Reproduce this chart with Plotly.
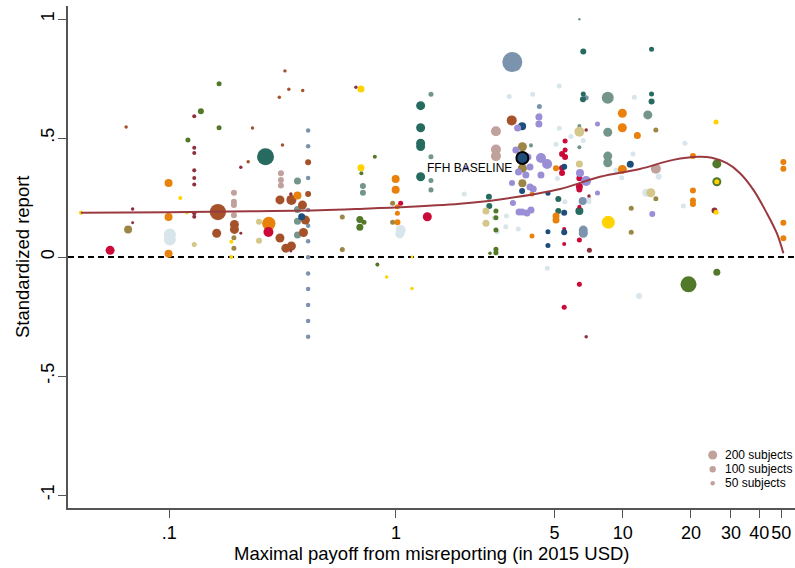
import numpy as np
import plotly.graph_objects as go

# ---- data: (max payoff in 2015 USD, standardized report, number of subjects) ----
brown = [(0.0646, 0.546, 30), (0.164, 0.189, 650), (0.162, 0.10, 200), (0.194, 0.137, 200),
         (0.194, 0.116, 200), (0.223, 0.40, 30), (0.233, 0.542, 30), (0.308, 0.24, 200),
         (0.308, 0.08, 200), (0.306, 0.671, 30), (0.324, 0.782, 30), (0.337, 0.705, 30),
         (0.388, 0.70, 30), (0.327, 0.037, 200), (0.346, 0.046, 200), (0.346, 0.24, 247),
         (0.387, 0.218, 200), (0.399, 0.155, 200), (0.391, 0.103, 200), (0.41, 0.398, 89),
         (0.41, 0.265, 89), (0.316, 0.471, 30), (3.24, 0.574, 247)]
maroon = [(0.069, 0.202, 30), (0.069, 0.144, 22), (0.129, 0.591, 40), (0.129, 0.459, 40),
          (0.129, 0.437, 40), (0.129, 0.364, 40), (0.129, 0.332, 40), (0.129, 0.305, 40),
          (0.129, 0.184, 40), (0.129, 0.169, 40), (0.207, 0.10, 22), (0.207, 0.377, 30),
          (0.344, 0.265, 30), (0.344, 0.025, 22), (0.666, 0.713, 30), (6.90, 0.534, 30),
          (7.1, 0.256, 30), (7.13, 0.028, 62), (6.90, -0.335, 30), (25.4, 0.195, 89)]
orange = [(0.0994, 0.311, 158), (0.0994, 0.168, 158), (0.0994, 0.014, 158), (0.275, 0.141, 440),
          (0.368, 0.258, 158), (0.997, 0.328, 158), (0.997, 0.283, 158), (1.015, 0.211, 62),
          (1.015, 0.184, 62), (1.015, 0.146, 89), (5.08, 0.373, 89), (3.98, 0.265, 62),
          (3.98, 0.088, 62), (5.08, 0.172, 121), (5.08, 0.155, 121), (9.96, 0.604, 200),
          (9.96, 0.543, 200), (11.6, 0.51, 121), (9.96, 0.368, 200), (20.4, 0.424, 89),
          (20.4, 0.279, 89), (20.4, 0.237, 89), (20.4, 0.223, 89), (51.1, 0.399, 89),
          (51.1, 0.371, 89), (51.1, 0.144, 89), (51.1, 0.079, 89)]
crimson = [(0.0549, 0.028, 200), (0.274, 0.105, 247), (1.049, 0.226, 62), (1.375, 0.169, 200),
           (5.57, 0.487, 62), (5.57, 0.45, 62), (5.40, 0.433, 89), (5.57, 0.420, 89),
           (5.40, 0.374, 89), (5.40, 0.353, 89), (6.44, 0.331, 89), (6.44, 0.296, 121),
           (6.44, 0.284, 89), (6.44, 0.211, 40), (5.52, 0.118, 40), (5.52, 0.055, 40),
           (6.44, 0.071, 62), (6.44, -0.115, 62), (5.52, -0.211, 62)]
yellow = [(0.0408, 0.186, 40), (0.112, 0.248, 40), (0.1197, 0.186, 30), (0.188, 0.064, 40),
          (0.188, 0.0, 40), (0.701, 0.706, 121), (0.701, 0.375, 121), (0.91, -0.084, 30),
          (1.177, -0.132, 30), (1.177, 0.0, 22), (8.64, 0.146, 417), (25.8, 0.567, 62),
          (25.8, 0.188, 62)]
olive = [(0.0659, 0.116, 158), (0.193, 0.081, 62), (0.193, 0.037, 62), (0.580, 0.168, 62),
         (0.580, 0.031, 62), (0.967, 0.226, 62), (0.967, 0.146, 62), (3.61, 0.463, 200),
         (3.61, 0.373, 200), (3.61, 0.31, 158), (14.0, 0.534, 62), (14.0, 0.245, 62),
         (10.9, 0.205, 62), (10.9, 0.104, 62)]
khaki = [(0.129, 0.052, 62), (0.249, 0.148, 89), (0.249, 0.068, 89), (2.495, 0.193, 121),
         (2.495, 0.142, 121), (6.44, 0.526, 247), (6.44, 0.391, 121), (13.3, 0.27, 200)]
green = [(0.121, 0.492, 62), (0.138, 0.612, 89), (0.166, 0.728, 62), (0.166, 0.543, 62),
         (0.704, 0.352, 40), (0.693, 0.158, 121), (0.693, 0.125, 121), (0.723, 0.146, 62),
         (0.807, 0.421, 40), (0.828, -0.032, 40), (2.76, 0.193, 62), (2.76, 0.165, 62),
         (2.76, 0.113, 62), (2.76, 0.032, 62), (2.76, 0.018, 62), (2.598, 0.016, 30),
         (19.5, -0.115, 632), (26.0, -0.064, 121), (26.0, 0.391, 200), (26.0, 0.316, 200)]
yellow_top = [(26.0, 0.316, 62)]
teal = [(0.266, 0.421, 714), (1.285, 0.636, 200), (1.285, 0.543, 200), (1.285, 0.478, 200),
        (1.285, 0.464, 200), (1.285, 0.337, 200), (2.57, 0.253, 89), (2.58, 0.214, 89),
        (6.70, 0.863, 89), (13.4, 0.873, 62), (6.70, 0.685, 62), (6.68, 0.663, 89),
        (13.4, 0.685, 62), (13.4, 0.653, 89), (5.20, 0.244, 89), (5.20, 0.193, 89),
        (6.44, 0.193, 158)]
greyteal = [(0.368, 0.319, 121), (0.368, 0.20, 121), (0.368, 0.15, 121), (0.368, 0.092, 121),
            (0.715, 0.298, 89), (0.715, 0.27, 89), (1.427, 0.684, 62), (1.427, 0.421, 62),
            (1.427, 0.321, 62), (1.427, 0.282, 62), (6.44, 0.999, 15), (8.59, 0.669, 356),
            (12.9, 0.597, 200), (8.59, 0.524, 200), (8.59, 0.424, 200), (8.59, 0.396, 200),
            (3.94, 0.469, 40), (6.44, 0.526, 40), (6.44, 0.55, 40), (6.44, 0.461, 40)]
lightblue = [(0.1007, 0.095, 356), (0.1007, 0.074, 356), (1.049, 0.113, 247), (1.04, 0.097, 200),
             (2.0, 0.265, 62), (2.714, 0.165, 62), (2.80, 0.105, 62), (3.16, 0.674, 62),
             (4.01, 0.684, 62), (4.31, 0.597, 62), (5.25, 0.718, 62), (5.25, 0.541, 62),
             (5.91, 0.506, 62), (6.70, 0.489, 62), (5.08, 0.474, 62), (8.79, 0.68, 62),
             (11.25, 0.671, 62), (5.15, 0.33, 62), (5.56, 0.232, 62), (7.1, 0.247, 62),
             (7.1, 0.232, 62), (3.46, 0.118, 62), (3.05, 0.127, 62), (3.07, 0.172, 62),
             (4.65, -0.047, 62), (11.8, -0.164, 89), (11.1, 0.433, 62), (9.9, 0.333, 62),
             (9.34, 0.365, 62), (14.4, 0.337, 89), (12.7, 0.27, 158), (18.8, 0.478, 62),
             (18.5, 0.214, 62)]
steel = [(0.41, 0.532, 50), (0.41, 0.465, 50), (0.41, 0.398, 50), (0.41, 0.332, 50),
         (0.41, 0.265, 50), (0.41, 0.198, 50), (0.41, 0.131, 50), (0.41, 0.066, 50),
         (0.41, -0.001, 50), (0.41, -0.069, 50), (0.41, -0.134, 50), (0.41, -0.202, 50),
         (0.41, -0.269, 50), (0.41, -0.335, 50), (3.26, 0.819, 988), (4.29, 0.632, 62),
         (6.90, 0.669, 62), (6.66, 0.235, 158), (6.70, 0.113, 200), (6.70, 0.10, 200)]
navy = [(0.384, 0.169, 121), (3.60, 0.549, 158), (3.60, 0.277, 89), (5.52, 0.379, 89),
        (5.52, 0.186, 89), (5.52, 0.104, 89), (4.68, 0.268, 62), (4.68, 0.106, 62),
        (4.68, 0.048, 62), (10.8, 0.39, 121)]
lavender = [(3.44, 0.542, 121), (4.27, 0.588, 121), (4.27, 0.559, 121), (3.38, 0.450, 121),
            (4.36, 0.416, 247), (4.64, 0.391, 247), (3.82, 0.42, 121), (3.90, 0.378, 121),
            (3.74, 0.345, 121), (4.36, 0.345, 121), (3.25, 0.311, 89), (3.47, 0.357, 121),
            (3.90, 0.294, 121), (4.03, 0.286, 121), (3.28, 0.227, 89), (3.60, 0.189, 121),
            (3.78, 0.185, 121), (3.94, 0.197, 121), (3.49, 0.189, 121), (7.74, 0.559, 62),
            (6.48, 0.353, 158), (6.89, 0.319, 247), (7.74, 0.269, 62), (13.5, 0.181, 89),
            (2.04, 0.374, 62)]
rosy = [(0.193, 0.27, 89), (0.193, 0.232, 89), (0.193, 0.218, 89), (0.193, 0.175, 89),
        (0.311, 0.352, 89), (0.311, 0.324, 89), (0.311, 0.30, 89), (2.76, 0.528, 247),
        (2.76, 0.452, 247), (2.76, 0.424, 247), (14.0, 0.371, 247)]
baseline = [(3.61, 0.416, 247)]

# fitted curve
fit_x = [0.0408, 0.1, 0.227, 0.462, 0.767, 1.041, 1.915, 2.87, 5.30, 7.94, 11.9, 16.7,
         21.6, 24.7, 28.8, 32.9, 37.7, 43.2, 47.8, 51.1]
fit_y = [0.186, 0.188, 0.192, 0.196, 0.204, 0.209, 0.224, 0.242, 0.286, 0.337, 0.37, 0.408,
         0.421, 0.417, 0.394, 0.352, 0.282, 0.184, 0.10, 0.016]

legend_n = [200, 100, 50]
legend_labels = ["200 subjects", "100 subjects", "50 subjects"]

x_ticks = [0.1, 1, 5, 10, 20, 30, 40, 50]
x_ticktext = [".1", "1", "5", "10", "20", "30", "40", "50"]
y_ticks = [-1, -0.5, 0, 0.5, 1]
y_ticktext = ["-1", "-.5", "0", ".5", "1"]

# ---- styling ----
groups = [
    (lightblue, "#D8E5EB"), (steel, "#7B93AD"), (rosy, "#C0A19B"), (greyteal, "#73958A"),
    (teal, "#276B60"), (brown, "#A5522A"), (maroon, "#8E2F3C"), (khaki, "#D3C789"),
    (olive, "#9B8646"), (green, "#52782A"), (orange, "#E8820C"), (crimson, "#CC0A38"),
    (yellow, "#FFD200"), (navy, "#1D4D7A"), (lavender, "#9A8ED6"), (yellow_top, "#FFD200"),
]
FONT = "Liberation Sans, Arial, sans-serif"


def msize(n):
    return 9.0 * np.sqrt(np.asarray(n, dtype=float) / 200.0)


fig = go.Figure()

for data, color in groups:
    xs, ys, ns = zip(*data)
    fig.add_trace(go.Scatter(x=xs, y=ys, mode="markers", showlegend=False, hoverinfo="skip",
                             marker=dict(color=color, size=msize(ns), opacity=1, line=dict(width=0))))

fig.add_trace(go.Scatter(x=fit_x, y=fit_y, mode="lines", line=dict(color="#9A3A40", width=2, shape="spline"),
                         showlegend=False, hoverinfo="skip"))

bx, by, bn = zip(*baseline)
fig.add_trace(go.Scatter(x=bx, y=by, mode="markers", showlegend=False, hoverinfo="skip",
                         marker=dict(color="#1D4D7A", size=msize(bn) + 2, opacity=1,
                                     line=dict(color="black", width=2))))

# size legend on an invisible overlay axis
leg_y = [0.1056, 0.0771, 0.0492]
fig.add_trace(go.Scatter(x=[0.8868] * 3, y=leg_y, xaxis="x2", yaxis="y2", mode="markers",
                         showlegend=False, hoverinfo="skip",
                         marker=dict(color="#C0A19B", size=msize(legend_n), opacity=1, line=dict(width=0))))
for lab, yy in zip(legend_labels, leg_y):
    fig.add_annotation(x=0.9006, y=yy, xref="x2", yref="y2", text=lab, showarrow=False,
                       xanchor="left", yanchor="middle", font=dict(family=FONT, size=12, color="black"))

fig.add_annotation(x=np.log10(bx[0]), y=0.373, text="FFH BASELINE", showarrow=False,
                   xanchor="right", yanchor="middle", xshift=-8,
                   font=dict(family=FONT, size=12, color="black"))

# axis titles
fig.add_annotation(x=0.5, y=0, xref="paper", yref="paper", text="Maximal payoff from misreporting (in 2015 USD)",
                   showarrow=False, xanchor="center", yanchor="middle", yshift=-45,
                   font=dict(family=FONT, size=18.5, color="black"))
fig.add_annotation(x=0, y=0.5, xref="paper", yref="paper", text="Standardized report", textangle=-90,
                   showarrow=False, xanchor="center", yanchor="middle", xshift=-46,
                   font=dict(family=FONT, size=18.5, color="black"))

fig.add_shape(type="line", xref="paper", yref="y", x0=0, x1=1, y0=0, y1=0,
              line=dict(color="black", width=2, dash="6px,4px"), layer="below")

axis_col = "#555555"
fig.update_layout(
    width=795, height=568,
    margin=dict(l=68, r=0, t=6, b=60, autoexpand=False),
    paper_bgcolor="white", plot_bgcolor="white",
    font=dict(family=FONT, color="black"),
    xaxis=dict(type="log", range=[np.log10(0.0358), np.log10(57.5)], automargin=False,
               tickvals=x_ticks, ticktext=x_ticktext, ticks="outside", ticklen=8, tickangle=0,
               tickcolor=axis_col, tickwidth=1.3, showline=True, linecolor=axis_col, linewidth=1.5,
               showgrid=False, zeroline=False, tickfont=dict(size=18)),
    yaxis=dict(range=[-1.0546, 1.0546], tickvals=y_ticks, ticktext=y_ticktext, ticks="outside",
               ticklen=8, tickcolor=axis_col, tickwidth=1.3, showline=True, linecolor=axis_col,
               linewidth=1.5, showgrid=False, zeroline=False, tickangle=-90, tickfont=dict(size=18),
               automargin=False, ticklabelstandoff=-3),
    xaxis2=dict(overlaying="x", range=[0, 1], visible=False, anchor="y2"),
    yaxis2=dict(overlaying="y", range=[0, 1], visible=False, anchor="x2"),
)

fig.write_html("out.html", config={"displayModeBar": False},
               post_script="document.body.style.margin='0';document.body.style.overflow='hidden';")
